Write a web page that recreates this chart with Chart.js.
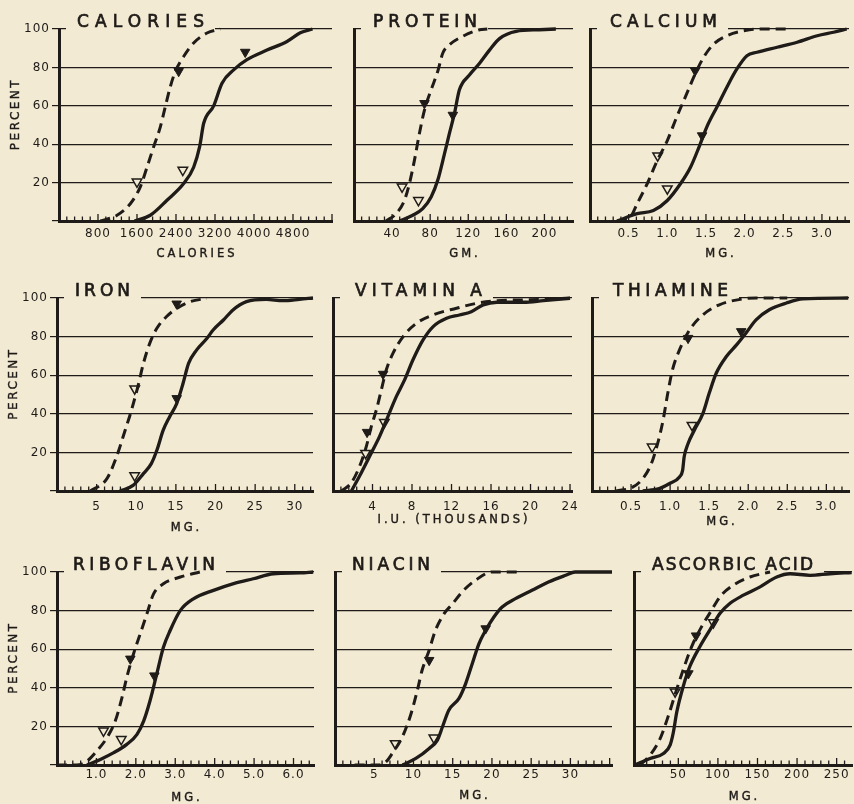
<!DOCTYPE html>
<html>
<head>
<meta charset="utf-8">
<script src="https://cdn.jsdelivr.net/npm/chart.js@4.4.1/dist/chart.umd.min.js"></script>
<style>
    html, body { margin: 0; padding: 0; background: #f3ead3; }
    #page { position: relative; width: 854px; height: 804px; overflow: hidden; background: #f3ead3; }
    #page canvas { position: absolute; }
</style>
</head>
<body>
<div id="page"></div>
<script>
// Curves: [x, percent]
const caloriesSolid = [[1550,0],[1873,3],[2215,10.8],[2557,19.5],[2762,28],[2885,38.7],[2968,50.9],[3173,60],[3344,71.8],[3583,78.7],[3856,84],[4267,89],[4677,93.5],[4950,98],[5200,100]];
const caloriesDashed = [[850,0],[1190,3],[1463,9],[1668,17.8],[1805,28],[1942,38.7],[2079,49],[2181,59.6],[2284,70],[2386,77.9],[2557,85.7],[2762,92.7],[3036,97.9],[3309,100]];
const caloriesFilled = [[2455,78],[3820,88]];
const caloriesOpen = [[1600,20.4],[2540,26.5]];
const caloriesTicks = ['800','1600','2400','3200','4000','4800'];

const proteinSolid = [[47.7,0],[61.7,3],[72.2,6.4],[81,12.5],[88,21.3],[95,35],[100.2,45.6],[105.5,56],[110.7,68.3],[121.2,76],[131.7,82],[142.3,89],[152.8,95],[170.3,98.8],[194.8,99.6],[212,100]];
const proteinDashed = [[33.7,0],[44.2,3.8],[53,10.8],[58.2,19.5],[63.5,31.7],[68.7,45.6],[74,57.8],[81,68.3],[88,78],[93.3,87.5],[100.3,91.8],[114.3,96.2],[131.8,99.6],[140,100]];
const proteinFilled = [[74,61.3],[103.8,55.2]];
const proteinOpen = [[50.5,17.8],[67.7,10.8]];
const proteinTicks = ['40','80','120','160','200'];

const calciumSolid = [[0.35,0],[0.61,3.8],[0.82,5.5],[1.0,10.7],[1.17,19.4],[1.30,28],[1.41,38.5],[1.51,48.9],[1.64,59.3],[1.77,69.7],[1.90,79.2],[2.03,86.1],[2.16,87.9],[2.42,90.5],[2.68,93.1],[2.94,96.5],[3.15,98.3],[3.32,100]];
const calciumDashed = [[0.35,0],[0.52,2],[0.61,9],[0.74,19.4],[0.87,31.5],[1.0,41.9],[1.12,54],[1.25,66.2],[1.36,76.6],[1.47,85.3],[1.60,92.2],[1.77,96.5],[1.99,99.1],[2.16,100],[2.6,100]];
const calciumFilled = [[1.36,78.3],[1.45,44.5]];
const calciumOpen = [[0.875,34],[1.0,16.8]];
const calciumTicks = ['0.5','1.0','1.5','2.0','2.5','3.0'];

const ironSolid = [[7.94,0],[9.6,2.9],[10.9,9],[11.9,14.2],[12.6,21.1],[13.4,31.5],[14.2,38.4],[15.1,45.3],[15.9,55.7],[16.6,66.1],[17.6,73],[18.9,79],[19.7,83.4],[21.0,88.6],[22.2,93.8],[23.9,98.1],[26.4,99.3],[28.5,98.6],[30.6,99.3],[32.3,100]];
const ironDashed = [[4.2,0],[6.3,6.4],[7.5,17.6],[8.6,31.5],[9.4,41.9],[10.3,55.7],[10.9,66.1],[11.7,76.5],[12.6,84.3],[13.8,90.3],[15.1,94.6],[16.8,98.1],[18.9,99.8]];
const ironFilled = [[15.1,97],[15.1,48]];
const ironOpen = [[9.8,53],[9.8,8]];
const ironTicks = ['5','10','15','20','25','30'];

const vitaminASolid = [[1.86,0],[2.87,9.5],[3.89,19.8],[4.73,28.4],[5.57,38.7],[6.42,49],[7.26,57.7],[8.1,68],[9.12,78.3],[10.14,85.2],[11.5,89.5],[12.8,91.2],[14.0,92.9],[15.2,96.4],[16.6,97.8],[19.3,97.8],[21.3,98.6],[24,99.8]];
const vitaminADashed = [[0.85,0],[1.86,4.3],[2.7,12.9],[3.38,23.2],[3.89,33.6],[4.4,42.2],[4.9,52.5],[5.4,62.8],[6.08,71.4],[7.1,80],[8.45,86.9],[10.1,91.2],[12.5,94.7],[14.5,97.2],[16.6,98.6],[19.3,99],[21.3,99.3],[24,100]];
const vitaminAFilled = [[5.07,60.6],[3.45,30.5]];
const vitaminAOpen = [[5.2,35.6],[3.3,19.6]];
const vitaminATicks = ['4','8','12','16','20','24'];

const thiamineSolid = [[0.65,0],[0.86,1.2],[0.99,3.8],[1.12,7.3],[1.16,10.7],[1.18,17.7],[1.23,24.6],[1.31,31.5],[1.42,40.2],[1.50,50.6],[1.59,61],[1.72,69.7],[1.85,75.7],[1.97,81.8],[2.10,88.7],[2.27,93.9],[2.49,97.4],[2.70,99.5],[3.28,100]];
const thiamineDashed = [[0.31,0],[0.52,2],[0.65,6.4],[0.76,14.2],[0.84,24.6],[0.91,36.7],[0.97,50.6],[1.03,62.7],[1.12,73.1],[1.25,83.5],[1.42,91.3],[1.63,96.5],[1.93,99.5],[2.1,100],[2.5,100]];
const thiamineFilled = [[1.23,79.2],[1.91,82.7]];
const thiamineOpen = [[0.77,22.9],[1.28,34.1]];
const thiamineTicks = ['0.5','1.0','1.5','2.0','2.5','3.0'];

const riboflavinSolid = [[0.76,0],[1.1,2.9],[1.44,6.4],[1.77,10.7],[2.03,15.9],[2.2,22.9],[2.36,33.3],[2.53,47.1],[2.7,61],[2.87,69.7],[3.13,80.1],[3.46,86.1],[3.97,90.5],[4.48,94],[4.98,96.5],[5.49,99.1],[6.17,99.5],[6.5,100]];
const riboflavinDashed = [[0,0],[0.5,0],[0.76,2],[1.01,7.3],[1.27,14.2],[1.48,22.9],[1.65,35],[1.77,45.4],[1.94,57.5],[2.11,67.9],[2.28,78.3],[2.45,88.7],[2.7,93.9],[3.13,97.4],[3.63,100]];
const riboflavinFilled = [[1.86,55],[2.47,46.3]];
const riboflavinOpen = [[1.18,17.7],[1.63,13.3]];
const riboflavinTicks = ['1.0','2.0','3.0','4.0','5.0','6.0'];

const niacinSolid = [[8.6,0],[10.3,3.4],[12,8.6],[13.05,12.9],[13.7,19.8],[14.5,28.4],[15.8,34.5],[16.65,42.2],[17.5,52.6],[18.35,62.9],[19.2,69.8],[20.25,76.7],[21.3,81.9],[23,86.2],[25.1,90.5],[27.2,94.8],[29.4,98.3],[30.6,100],[35.3,100]];
const niacinDashed = [[2.5,0],[5.5,0],[6.5,1.7],[7.3,6],[8.6,14.7],[9.7,26.7],[10.5,38.8],[11.1,49.1],[12,59.5],[12.8,69.8],[13.9,78.4],[15,83.6],[16.2,89.7],[17.9,95.7],[20,100],[23.5,100]];
const niacinFilled = [[12,54.3],[19.2,70.7]];
const niacinOpen = [[7.67,11.2],[12.6,14.1]];
const niacinTicks = ['5','10','15','20','25','30'];

const ascorbicSolid = [[-5,0],[14.3,3.4],[31.2,6],[39.6,10.3],[43.8,17.1],[48,27.4],[56.4,41],[64.8,51.3],[77.5,61.5],[90.1,70.1],[102.7,78.6],[115.4,83.8],[132.2,88],[153.3,92.3],[174.3,97.4],[191.2,99.1],[216.4,98.3],[241.7,99.1],[269,99.7]];
const ascorbicDashed = [[1.7,0],[14.3,5.1],[27,13.7],[37.5,25.6],[48,39.3],[56.4,49.6],[67,61.5],[79.6,71.8],[92.2,80.3],[102.7,87.2],[119.6,93.2],[140.6,97.4],[165.9,100]];
const ascorbicFilled = [[72.4,67],[62.7,47.4]];
const ascorbicOpen = [[94.3,73.8],[45.9,38]];
const ascorbicTicks = ['50','100','150','200','250'];

const percentTicks = [0, 20, 40, 60, 80, 100];

document.addEventListener('DOMContentLoaded', function() {
    const INK = '#1e1b18';
    const PAPER = '#f3ead3';
    const FONT = '"DejaVu Sans", sans-serif';
    // room round each plot area inside its canvas
    const PAD_L = 60, PAD_T = 30, PAD_R = 30, PAD_B = 50;

    // 1. Panel layout (plot box in page pixels, axis range, lettering)
    const panels = [
        { name: 'CALORIES', unit: 'CALORIES', solid: caloriesSolid, dashed: caloriesDashed, filled: caloriesFilled, open: caloriesOpen, ticks: caloriesTicks,
          box: [59, 332, 29, 221], min: 0, max: 5600, minor: 160, major: 800, titleX: 18, titleW: 127, tickPad: 6, unitDy: 33, first: true },
        { name: 'PROTEIN', unit: 'GM.', solid: proteinSolid, dashed: proteinDashed, filled: proteinFilled, open: proteinOpen, ticks: proteinTicks,
          box: [354, 573, 29, 221], min: 0, max: 230, minor: 8, major: 40, titleX: 19, titleW: 104, tickPad: 6, unitDy: 33 },
        { name: 'CALCIUM', unit: 'MG.', solid: calciumSolid, dashed: calciumDashed, filled: calciumFilled, open: calciumOpen, ticks: calciumTicks,
          box: [590, 849, 29, 221], min: 0, max: 3.35, minor: 0.1, major: 0.5, titleX: 20, titleW: 107, tickPad: 6, unitDy: 33 },
        { name: 'IRON', unit: 'MG.', solid: ironSolid, dashed: ironDashed, filled: ironFilled, open: ironOpen, ticks: ironTicks,
          box: [57, 313, 298, 491], min: 0, max: 32.3, minor: 1, major: 5, titleX: 18, titleW: 55, tickPad: 9, unitDy: 37, first: true },
        { name: 'VITAMIN A', unit: 'I.U. (THOUSANDS)', solid: vitaminASolid, dashed: vitaminADashed, filled: vitaminAFilled, open: vitaminAOpen, ticks: vitaminATicks,
          box: [333, 572, 298, 491], min: 0, max: 24.2, minor: 0.8, major: 4, titleX: 22, titleW: 127, tickPad: 9, unitDy: 29 },
        { name: 'THIAMINE', unit: 'MG.', solid: thiamineSolid, dashed: thiamineDashed, filled: thiamineFilled, open: thiamineOpen, ticks: thiamineTicks,
          box: [592, 849, 298, 491], min: 0, max: 3.29, minor: 0.1, major: 0.5, titleX: 21, titleW: 115, tickPad: 9, unitDy: 31 },
        { name: 'RIBOFLAVIN', unit: 'MG.', solid: riboflavinSolid, dashed: riboflavinDashed, filled: riboflavinFilled, open: riboflavinOpen, ticks: riboflavinTicks,
          box: [57, 314, 572, 765], min: 0, max: 6.52, minor: 0.2, major: 1, titleX: 16, titleW: 142, tickPad: 3, unitDy: 33, first: true },
        { name: 'NIACIN', unit: 'MG.', solid: niacinSolid, dashed: niacinDashed, filled: niacinFilled, open: niacinOpen, ticks: niacinTicks,
          box: [335, 612, 572, 765], min: 0, max: 35.3, minor: 1, major: 5, titleX: 17, titleW: 78, tickPad: 3, unitDy: 31 },
        { name: 'ASCORBIC ACID', unit: 'MG.', solid: ascorbicSolid, dashed: ascorbicDashed, filled: ascorbicFilled, open: ascorbicOpen, ticks: ascorbicTicks,
          box: [634, 852, 572, 765], min: -6, max: 269.4, minor: 10, major: 50, titleX: 18, titleW: 161, tickPad: 3, unitDy: 32 }
    ];

    const toXY = arr => arr.map(([x, y]) => ({ x: x, y: y }));

    // 2. Lettering, minor ticks and the break in the top rule
    function decor(p) {
        return {
            id: 'decor',
            beforeDraw(chart) { chart.ctx.letterSpacing = '1px'; },
            beforeDatasetsDraw(chart) {
                const ctx = chart.ctx, a = chart.chartArea, xs = chart.scales.x;
                ctx.save();
                ctx.strokeStyle = INK;
                ctx.lineWidth = 1.3;
                for (let i = 1; i * p.minor <= p.max + 1e-9; i++) {
                    const v = i * p.minor;
                    const px = xs.getPixelForValue(v);
                    const big = Math.abs(v / p.major - Math.round(v / p.major)) < 1e-6;
                    ctx.beginPath();
                    ctx.moveTo(px, a.bottom);
                    ctx.lineTo(px, a.bottom - (big ? 7 : 4.5));
                    ctx.stroke();
                }

                // title sits on the 100 line
                ctx.font = '17px ' + FONT;
                ctx.letterSpacing = '0px';
                const w0 = ctx.measureText(p.name).width;
                ctx.letterSpacing = ((p.titleW - w0) / (p.name.length - 1)) + 'px';
                ctx.fillStyle = PAPER;
                ctx.fillRect(a.left + 7, a.top - 3, p.titleX - 7 + p.titleW + 11, 6);
                ctx.fillStyle = INK;
                ctx.lineWidth = 0.7;
                ctx.textAlign = 'left';
                ctx.textBaseline = 'alphabetic';
                ctx.fillText(p.name, a.left + p.titleX, a.top - 2);
                ctx.strokeText(p.name, a.left + p.titleX, a.top - 2);

                // unit under the axis
                ctx.font = '11.5px ' + FONT;
                ctx.letterSpacing = '3px';
                ctx.textAlign = 'center';
                ctx.textBaseline = 'middle';
                ctx.lineWidth = 0.4;
                ctx.fillText(p.unit, (a.left + a.right) / 2 + 1.5, a.bottom + p.unitDy);
                ctx.strokeText(p.unit, (a.left + a.right) / 2 + 1.5, a.bottom + p.unitDy);

                if (p.first) {
                    ctx.font = '12px ' + FONT;
                    ctx.letterSpacing = '2.5px';
                    ctx.translate(17, (a.top + a.bottom) / 2 - 10);
                    ctx.rotate(-Math.PI / 2);
                    ctx.fillText('PERCENT', 1, 0);
                    ctx.strokeText('PERCENT', 1, 0);
                }
                ctx.restore();
            }
        };
    }

    // 3. One chart per panel
    const page = document.getElementById('page');
    panels.forEach(p => {
        const [L, R, T, B] = p.box;
        const canvas = document.createElement('canvas');
        canvas.width = (R - L) + PAD_L + PAD_R;
        canvas.height = (B - T) + PAD_T + PAD_B;
        canvas.style.left = (L - PAD_L) + 'px';
        canvas.style.top = (T - PAD_T) + 'px';
        page.appendChild(canvas);

        const line = { borderColor: INK, pointRadius: 0, cubicInterpolationMode: 'monotone', clip: false, fill: false };
        const mark = { showLine: false, pointStyle: 'triangle', rotation: 180, pointRadius: 5.5, borderColor: INK, clip: false };

        new Chart(canvas, {
            type: 'line',
            data: {
                datasets: [
                    Object.assign({ data: toXY(p.solid), borderWidth: 3.3 }, line),
                    Object.assign({ data: toXY(p.dashed), borderWidth: 3, borderDash: [10, 6] }, line),
                    Object.assign({ data: toXY(p.filled), backgroundColor: INK, borderWidth: 1 }, mark),
                    Object.assign({ data: toXY(p.open), backgroundColor: PAPER, borderWidth: 1.5 }, mark)
                ]
            },
            options: {
                responsive: false,
                animation: false,
                devicePixelRatio: 1,
                events: [],
                layout: { padding: { left: 0, top: PAD_T, right: PAD_R, bottom: 0 } },
                plugins: { legend: { display: false }, tooltip: { enabled: false } },
                scales: {
                    x: {
                        type: 'linear',
                        min: p.min,
                        max: p.max,
                        grid: { display: false, drawTicks: false },
                        border: { display: true, width: 3, color: INK },
                        afterBuildTicks: s => { s.ticks = p.ticks.map(t => ({ value: parseFloat(t) })); },
                        afterFit: s => { s.height = PAD_B; },
                        ticks: {
                            autoSkip: false, maxRotation: 0, padding: p.tickPad, color: INK,
                            font: { family: FONT, size: 12 },
                            callback: (v, i) => p.ticks[i]
                        }
                    },
                    y: {
                        type: 'linear',
                        min: 0,
                        max: 100,
                        afterBuildTicks: s => { s.ticks = percentTicks.map(v => ({ value: v })); },
                        afterFit: s => { s.width = PAD_L; },
                        grid: { color: INK, lineWidth: 1.2, drawTicks: !!p.first, tickLength: 7 },
                        border: { display: true, width: 3, color: INK },
                        ticks: {
                            display: !!p.first, padding: 2, color: INK,
                            font: { family: FONT, size: 12 },
                            callback: v => (v === 0 ? '' : String(v))
                        }
                    }
                }
            },
            plugins: [decor(p)]
        });
    });
});
</script>
</body>
</html>
